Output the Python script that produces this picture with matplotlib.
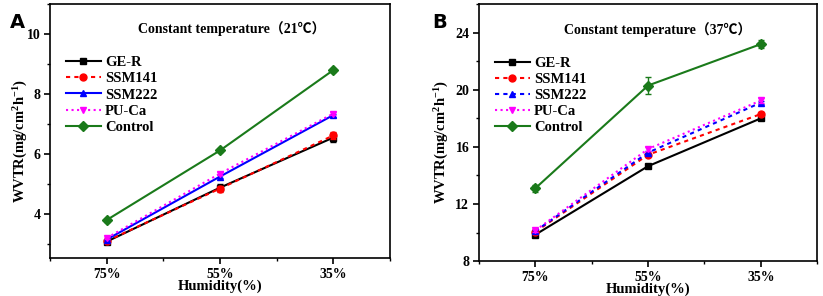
import numpy as np
import matplotlib.pyplot as plt
from matplotlib.ticker import MultipleLocator

humidity = ['75%', '55%', '35%']
series = ['GE-R', 'SSM141', 'SSM222', 'PU-Ca', 'Control']

# panel A, 21 C
a_vals = {
    'GE-R':    [3.08, 4.88, 6.55],
    'SSM141':  [3.10, 4.85, 6.62],
    'SSM222':  [3.15, 5.25, 7.30],
    'PU-Ca':   [3.20, 5.35, 7.35],
    'Control': [3.80, 6.12, 8.80],
}
a_err = {
    'GE-R':    [0.05, 0.12, 0.15],
    'SSM141':  [0.05, 0.10, 0.12],
    'SSM222':  [0.03, 0.05, 0.05],
    'PU-Ca':   [0.03, 0.06, 0.05],
    'Control': [0.05, 0.06, 0.05],
}

# panel B, 37 C
b_vals = {
    'GE-R':    [9.85, 14.65, 18.00],
    'SSM141':  [10.05, 15.45, 18.30],
    'SSM222':  [10.10, 15.60, 19.10],
    'PU-Ca':   [10.15, 15.85, 19.25],
    'Control': [13.10, 20.30, 23.20],
}
b_err = {
    'GE-R':    [0.1, 0.1, 0.1],
    'SSM141':  [0.1, 0.1, 0.15],
    'SSM222':  [0.1, 0.1, 0.1],
    'PU-Ca':   [0.1, 0.15, 0.15],
    'Control': [0.25, 0.6, 0.3],
}

colors = {'GE-R': 'black', 'SSM141': 'red', 'SSM222': 'blue', 'PU-Ca': 'magenta', 'Control': '#1a7a1a'}
markers = {'GE-R': 's', 'SSM141': 'o', 'SSM222': '^', 'PU-Ca': 'v', 'Control': 'D'}
styles_a = {'GE-R': '-', 'SSM141': (0, (2, 2)), 'SSM222': '-', 'PU-Ca': ':', 'Control': '-'}
styles_b = {'GE-R': '-', 'SSM141': (0, (2, 2)), 'SSM222': (0, (2, 2)), 'PU-Ca': ':', 'Control': '-'}

serif = ['Liberation Serif', 'Noto Sans CJK SC']
plt.rcParams['font.family'] = serif
plt.rcParams['font.weight'] = 'bold'
plt.rcParams['axes.labelweight'] = 'bold'
plt.rcParams['mathtext.fontset'] = 'custom'
plt.rcParams['mathtext.rm'] = 'Liberation Serif:bold'
plt.rcParams['mathtext.it'] = 'Liberation Serif:bold'
plt.rcParams['mathtext.bf'] = 'Liberation Serif:bold'

fig = plt.figure(figsize=(8.23, 2.96), dpi=100)
ax_a = fig.add_axes([0.0608, 0.128, 0.413, 0.858])
ax_b = fig.add_axes([0.582, 0.118, 0.411, 0.868])


def draw(ax, vals, errs, styles, ylim, major, minor, title, tx, ylab_xy):
    x = np.arange(len(humidity))
    for s in series:
        ax.errorbar(x, vals[s], yerr=errs[s], color=colors[s], linestyle='none',
                    capsize=2, elinewidth=1)
        ax.plot(x, vals[s], color=colors[s], linestyle=styles[s],
                marker=markers[s], markersize=5, linewidth=1.5, label=s)
    ax.set_xlim(-0.5, 2.5)
    ax.set_ylim(*ylim)
    ax.set_xticks(x)
    ax.set_xticklabels(humidity)
    ax.xaxis.set_minor_locator(MultipleLocator(0.5))
    ax.yaxis.set_major_locator(MultipleLocator(major))
    ax.yaxis.set_minor_locator(MultipleLocator(minor))
    ax.tick_params(direction='out', labelsize=10, length=4, width=1.2, pad=3)
    ax.tick_params(which='minor', direction='out', length=2.5, width=1)
    for sp in ax.spines.values():
        sp.set_linewidth(1.2)
    ax.set_xlabel('Humidity(%)', fontsize=10.5, labelpad=-1)
    ax.set_ylabel('WVTR(mg/cm$^2$h$^{-1}$)', fontsize=10.5)
    ax.yaxis.set_label_coords(*ylab_xy)
    ax.text(tx, 0.885, title, transform=ax.transAxes, fontsize=10, fontweight='bold')
    ax.legend(loc='upper left', bbox_to_anchor=(0.02, 0.83), frameon=False,
              fontsize=10.5, handlelength=2.4, labelspacing=0.2,
              handletextpad=0.3, borderaxespad=0.2)


draw(ax_a, a_vals, a_err, styles_a, (2.53, 11), 2, 1,
     'Constant temperature（21℃）', 0.26, (-0.06, 0.46))
draw(ax_b, b_vals, b_err, styles_b, (8, 26), 4, 2,
     'Constant temperature（37℃）', 0.25, (-0.082, 0.463))

fig.text(0.012, 0.905, 'A', fontsize=14, fontweight='bold', family='DejaVu Sans')
fig.text(0.525, 0.905, 'B', fontsize=14, fontweight='bold', family='DejaVu Sans')

fig.savefig('out.png', dpi=100)
